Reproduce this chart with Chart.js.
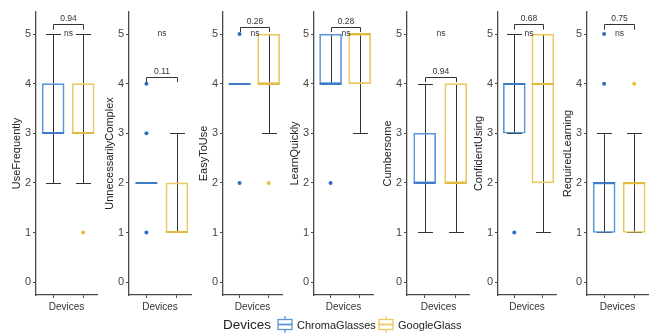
<!DOCTYPE html>
<html><head><meta charset="utf-8">
<script src="https://cdn.jsdelivr.net/npm/chart.js@4.4.0/dist/chart.umd.min.js"></script>
<style>
html,body{margin:0;padding:0;background:#fff;width:656px;height:335px;overflow:hidden;font-family:"Liberation Sans",Arial,sans-serif;}
.panel{position:absolute;top:0;height:315px;}
#legend{position:absolute;left:0;top:315px;width:656px;height:18px;}
#legend .it{position:absolute;top:0;height:18px;line-height:18px;white-space:nowrap;color:#222;}
#legend svg{position:absolute;top:1px;}
</style></head><body>
<div id="panels"></div>
<div id="legend"></div>
<script>
// ---------- data ----------
const metrics = ['UseFrequently','UnnecessarilyComplex','EasyToUse','LearnQuickly','Cumbersome','ConfidentUsing','RequiredLearning'];
const devices = ['ChromaGlasses','GoogleGlass'];
const legendTitle = 'Devices';
const xTitle = 'Devices';
const yTicks = [0,1,2,3,4,5];

const chromaQ1      = [3,2,4,4,2,3,1];
const chromaMedian  = [3,2,4,4,2,4,2];
const chromaQ3      = [4,2,4,5,3,4,2];
const chromaLow     = [2,2,4,4,1,3,1];
const chromaHigh    = [5,2,4,5,4,5,3];
const chromaOutliers= [[],[4,3,1],[5,2],[2],[],[1],[5,4]];

const googleQ1      = [3,1,4,4,2,2,1];
const googleMedian  = [3,1,4,5,2,4,2];
const googleQ3      = [4,2,5,5,4,5,2];
const googleLow     = [2,1,3,3,1,1,1];
const googleHigh    = [5,3,5,5,4,5,3];
const googleOutliers= [[1],[],[2],[],[],[],[4]];

const pValues   = ['0.94','0.11','0.26','0.28','0.94','0.68','0.75'];
const bracketY  = [5.2,4.14,5.15,5.15,4.14,5.2,5.2];
const nsLabels  = ['ns','ns','ns','ns','ns','ns','ns'];
const nsY       = [5,5,5,5,5,5,5];

// ---------- layout / style ----------
const axisX  = [36,129,223,314,407,498,587];
const rightX = [101,195,286,377,470,560,652];
const Y_AXIS_W = 32;
const BLUE = '#5b97d6', BLUE_MED = '#3f7cc6', BLUE_DOT = '#2f6fba';
const YEL = '#ecc862', YEL_MED = '#e4b940', YEL_DOT = '#e8bd3c';
const AXIS = '#4a4a4a', INK = '#333333';
const BOX_W = 22, CAP_W = 15;

Chart.defaults.font.family = '"Liberation Sans", Arial, sans-serif';

function crisp(v){ return Math.round(v) + 0.5; }

const boxExtras = {
  id: 'boxExtras',
  beforeDatasetsDraw(chart, args, opts){
    const i = opts.index, xs = chart.scales.x, ys = chart.scales.y, ctx = chart.ctx;
    ctx.save();
    ctx.strokeStyle = INK; ctx.lineWidth = 1;
    [[1, chromaLow[i], chromaHigh[i]], [2, googleLow[i], googleHigh[i]]].forEach(([pos, lo, hi]) => {
      if (lo === hi) return;
      const x = crisp(xs.getPixelForValue(pos));
      const yl = crisp(ys.getPixelForValue(lo)), yh = crisp(ys.getPixelForValue(hi));
      ctx.beginPath();
      ctx.moveTo(x, yl); ctx.lineTo(x, yh);
      ctx.moveTo(x - CAP_W/2, yl); ctx.lineTo(x + CAP_W/2, yl);
      ctx.moveTo(x - CAP_W/2, yh); ctx.lineTo(x + CAP_W/2, yh);
      ctx.stroke();
    });
    ctx.restore();
  },
  afterDatasetsDraw(chart, args, opts){
    const i = opts.index, xs = chart.scales.x, ys = chart.scales.y, ctx = chart.ctx;
    ctx.save();
    // medians
    [[1, chromaMedian[i], BLUE_MED], [2, googleMedian[i], YEL_MED]].forEach(([pos, m, col]) => {
      const x = xs.getPixelForValue(pos), y = Math.round(ys.getPixelForValue(m));
      ctx.strokeStyle = col; ctx.lineWidth = 2;
      ctx.beginPath(); ctx.moveTo(x - BOX_W/2, y); ctx.lineTo(x + BOX_W/2, y); ctx.stroke();
    });
    // bracket + p-value
    const x1 = crisp(xs.getPixelForValue(1)), x2 = crisp(xs.getPixelForValue(2));
    const by = crisp(ys.getPixelForValue(bracketY[i]));
    const tipY = ys.getPixelForValue(bracketY[i] - 0.11);
    ctx.strokeStyle = INK; ctx.lineWidth = 1;
    ctx.beginPath();
    ctx.moveTo(x1, tipY); ctx.lineTo(x1, by); ctx.lineTo(x2, by); ctx.lineTo(x2, tipY);
    ctx.stroke();
    ctx.fillStyle = INK;
    ctx.font = '8.5px "Liberation Sans", Arial, sans-serif';
    ctx.textAlign = 'center'; ctx.textBaseline = 'middle';
    ctx.fillText(pValues[i], (x1 + x2)/2, by - 6);
    ctx.fillText(nsLabels[i], (x1 + x2)/2, ys.getPixelForValue(nsY[i]));
    ctx.restore();
  }
};

function makePanel(i){
  const left = axisX[i] - Y_AXIS_W;
  const w = rightX[i] - left;
  const div = document.createElement('div');
  div.className = 'panel';
  div.style.left = left + 'px';
  div.style.width = w + 'px';
  const canvas = document.createElement('canvas');
  canvas.width = w; canvas.height = 315;
  canvas.style.width = w + 'px'; canvas.style.height = '315px';
  div.appendChild(canvas);
  document.getElementById('panels').appendChild(div);

  new Chart(canvas, {
    type: 'bar',
    data: {
      datasets: [
        { type:'bar', label: devices[0], data: [{x:1, y:[chromaQ1[i], chromaQ3[i]]}],
          backgroundColor:'rgba(0,0,0,0)', borderColor: BLUE, borderWidth: 1, borderSkipped: false,
          barThickness: BOX_W, grouped: false },
        { type:'bar', label: devices[1], data: [{x:2, y:[googleQ1[i], googleQ3[i]]}],
          backgroundColor:'rgba(0,0,0,0)', borderColor: YEL, borderWidth: 1, borderSkipped: false,
          barThickness: BOX_W, grouped: false },
        { type:'scatter', label: devices[0] + ' outliers', data: chromaOutliers[i].map(v => ({x:1, y:v})),
          pointRadius: 2, pointBackgroundColor: BLUE_DOT, pointBorderWidth: 0 },
        { type:'scatter', label: devices[1] + ' outliers', data: googleOutliers[i].map(v => ({x:2, y:v})),
          pointRadius: 2, pointBackgroundColor: YEL_DOT, pointBorderWidth: 0 }
      ]
    },
    options: {
      responsive: false, animation: false, maintainAspectRatio: false,
      layout: { padding: { top: 12, left: 0, right: 0, bottom: 0 } },
      plugins: { legend: { display: false }, tooltip: { enabled: false }, boxExtras: { index: i } },
      scales: {
        x: {
          type: 'linear', min: 0.43, max: 2.46, offset: false,
          afterBuildTicks: s => { s.ticks = [{value:1},{value:2}]; },
          afterFit: s => { s.height = 20; },
          ticks: { callback: () => '', padding: 0 },
          grid: { drawOnChartArea: false, drawTicks: true, tickLength: 3, color: AXIS, lineWidth: 1, offset: false },
          border: { display: true, color: AXIS, width: 1.3 },
          title: { display: true, text: xTitle, color: INK, font: { size: 10 }, padding: { top: 0, bottom: 2 } }
        },
        y: {
          type: 'linear', min: -0.26, max: 5.445,
          afterBuildTicks: s => { s.ticks = yTicks.map(v => ({value: v})); },
          afterFit: s => { s.width = Y_AXIS_W; },
          ticks: { color: '#444', font: { size: 11 }, padding: 2 },
          grid: { drawOnChartArea: false, drawTicks: true, tickLength: 3, color: AXIS, lineWidth: 1 },
          border: { display: true, color: AXIS, width: 1.3 },
          title: { display: true, text: metrics[i], color: '#222', font: { size: 11 }, padding: { top: 6, bottom: 0 } }
        }
      }
    },
    plugins: [boxExtras]
  });
}
metrics.forEach((m, i) => makePanel(i));

// ---------- legend ----------
function icon(col){
  return '<svg width="16" height="17" viewBox="0 0 16 17"><g fill="none" stroke="' + col + '" stroke-width="1.3">' +
    '<line x1="8" y1="0" x2="8" y2="17"/><rect x="1" y="3.5" width="14" height="10" fill="#fff"/>' +
    '<line x1="1" y1="8.5" x2="15" y2="8.5" stroke-width="1.8"/></g></svg>';
}
const legend = document.getElementById('legend');
const items = [
  { left: 223, html: '<span style="font-size:13.5px">' + legendTitle + '</span>' },
  { left: 277, html: icon(BLUE) },
  { left: 297, html: '<span style="font-size:11px">' + devices[0] + '</span>' },
  { left: 378, html: icon(YEL) },
  { left: 398, html: '<span style="font-size:11px">' + devices[1] + '</span>' }
];
items.forEach(it => {
  const d = document.createElement('div');
  d.className = 'it'; d.style.left = it.left + 'px'; d.innerHTML = it.html;
  legend.appendChild(d);
});
</script>
</body></html>
